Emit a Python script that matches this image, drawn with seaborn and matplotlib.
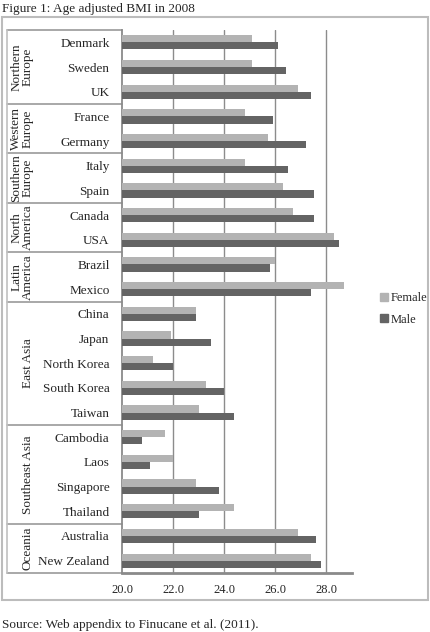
import pandas as pd
import numpy as np
import matplotlib.pyplot as plt
import seaborn as sns
from matplotlib.patches import Rectangle, Patch

countries = ['Denmark', 'Sweden', 'UK', 'France', 'Germany', 'Italy', 'Spain',
             'Canada', 'USA', 'Brazil', 'Mexico', 'China', 'Japan', 'North Korea',
             'South Korea', 'Taiwan', 'Cambodia', 'Laos', 'Singapore', 'Thailand',
             'Australia', 'New Zealand']
female = [25.1, 25.1, 26.9, 24.8, 25.7, 24.8, 26.3, 26.7, 28.3, 26.0, 28.7,
          22.9, 21.9, 21.2, 23.3, 23.0, 21.7, 22.0, 22.9, 24.4, 26.9, 27.4]
male = [26.1, 26.4, 27.4, 25.9, 27.2, 26.5, 27.5, 27.5, 28.5, 25.8, 27.4,
        22.9, 23.5, 22.0, 24.0, 24.4, 20.8, 21.1, 23.8, 23.0, 27.6, 27.8]
regions = ['Northern\nEurope', 'Western\nEurope', 'Southern\nEurope', 'North\nAmerica',
           'Latin\nAmerica', 'East Asia', 'Southeast Asia', 'Oceania']
region_sizes = [3, 2, 2, 2, 2, 5, 4, 2]
xticks = [20.0, 22.0, 24.0, 26.0, 28.0]

df = pd.DataFrame({'country': countries * 2,
                   'bmi': female + male,
                   'sex': ['Female'] * len(countries) + ['Male'] * len(countries)})

sns.set_style('white')
plt.rcParams['font.family'] = ['Liberation Serif', 'DejaVu Serif']

W, H = 430, 632
fig = plt.figure(figsize=(W / 100, H / 100), dpi=100)
ax = fig.add_axes([122 / W, (H - 573) / H, (352 - 122) / W, (573 - 30) / H])

sns.barplot(data=df, y='country', x='bmi', hue='sex', order=countries,
            palette={'Female': '#b3b3b3', 'Male': '#646464'},
            width=0.58, saturation=1, linewidth=0, ax=ax, legend=False, zorder=3)

ax.set_xlim(20, 29)
ax.set_ylim(len(countries) - 0.5, -0.5)
ax.set_xticks(xticks)
ax.set_xticklabels([f'{t:.1f}' for t in xticks], fontsize=9)
ax.set_yticks(range(len(countries)))
ax.set_yticklabels(countries, fontsize=9.5)
ax.tick_params(axis='y', length=0, pad=9)
ax.tick_params(axis='x', length=0, pad=8)
ax.set_xlabel('')
ax.set_ylabel('')
for t in xticks[1:]:
    ax.axvline(t, color='#8c8c8c', lw=1, zorder=1)
for s in ['top', 'right']:
    ax.spines[s].set_visible(False)
ax.spines['left'].set_color('#8a8a8a')
ax.spines['left'].set_linewidth(1.3)
ax.spines['bottom'].set_color('#8a8a8a')
ax.spines['bottom'].set_linewidth(2)

# region table on the left
tr = ax.get_yaxis_transform()
x0 = (7 - 122) / (352 - 122)
bounds = np.concatenate([[0], np.cumsum(region_sizes)]) - 0.5
for b in bounds:
    ax.plot([x0, 0], [b, b], transform=tr, color='#9a9a9a', lw=1.2, clip_on=False)
ax.plot([x0, x0], [bounds[0], bounds[-1]], transform=tr, color='#c0c0c0', lw=1.2, clip_on=False)
for name, lo, hi in zip(regions, bounds[:-1], bounds[1:]):
    xr = (22 - 122) / 230 if '\n' in name else (28 - 122) / 230
    ax.text(xr, (lo + hi) / 2, name, transform=tr, rotation=90, ha='center',
            va='center', fontsize=9.5, linespacing=0.95)

handles = [Patch(color='#b3b3b3', label='Female'), Patch(color='#646464', label='Male')]
fig.legend(handles=handles, loc='center left', bbox_to_anchor=(380 / W, 1 - 309 / H),
           frameon=False, fontsize=9, handlelength=0.6, handleheight=0.6,
           handletextpad=0.25, labelspacing=0.75, borderpad=0, borderaxespad=0)

fig.patches.append(Rectangle((2 / W, 1 - 600 / H), 426 / W, 583 / H, transform=fig.transFigure,
                             fill=False, edgecolor='#bcbcbc', lw=1.5))
fig.text(2 / W, 1 - 9 / H, 'Figure 1: Age adjusted BMI in 2008', fontsize=9.5, va='center')
fig.text(2 / W, 1 - 625 / H, 'Source: Web appendix to Finucane et al. (2011).', fontsize=9.5, va='center')

fig.savefig('out.png', dpi=100)
